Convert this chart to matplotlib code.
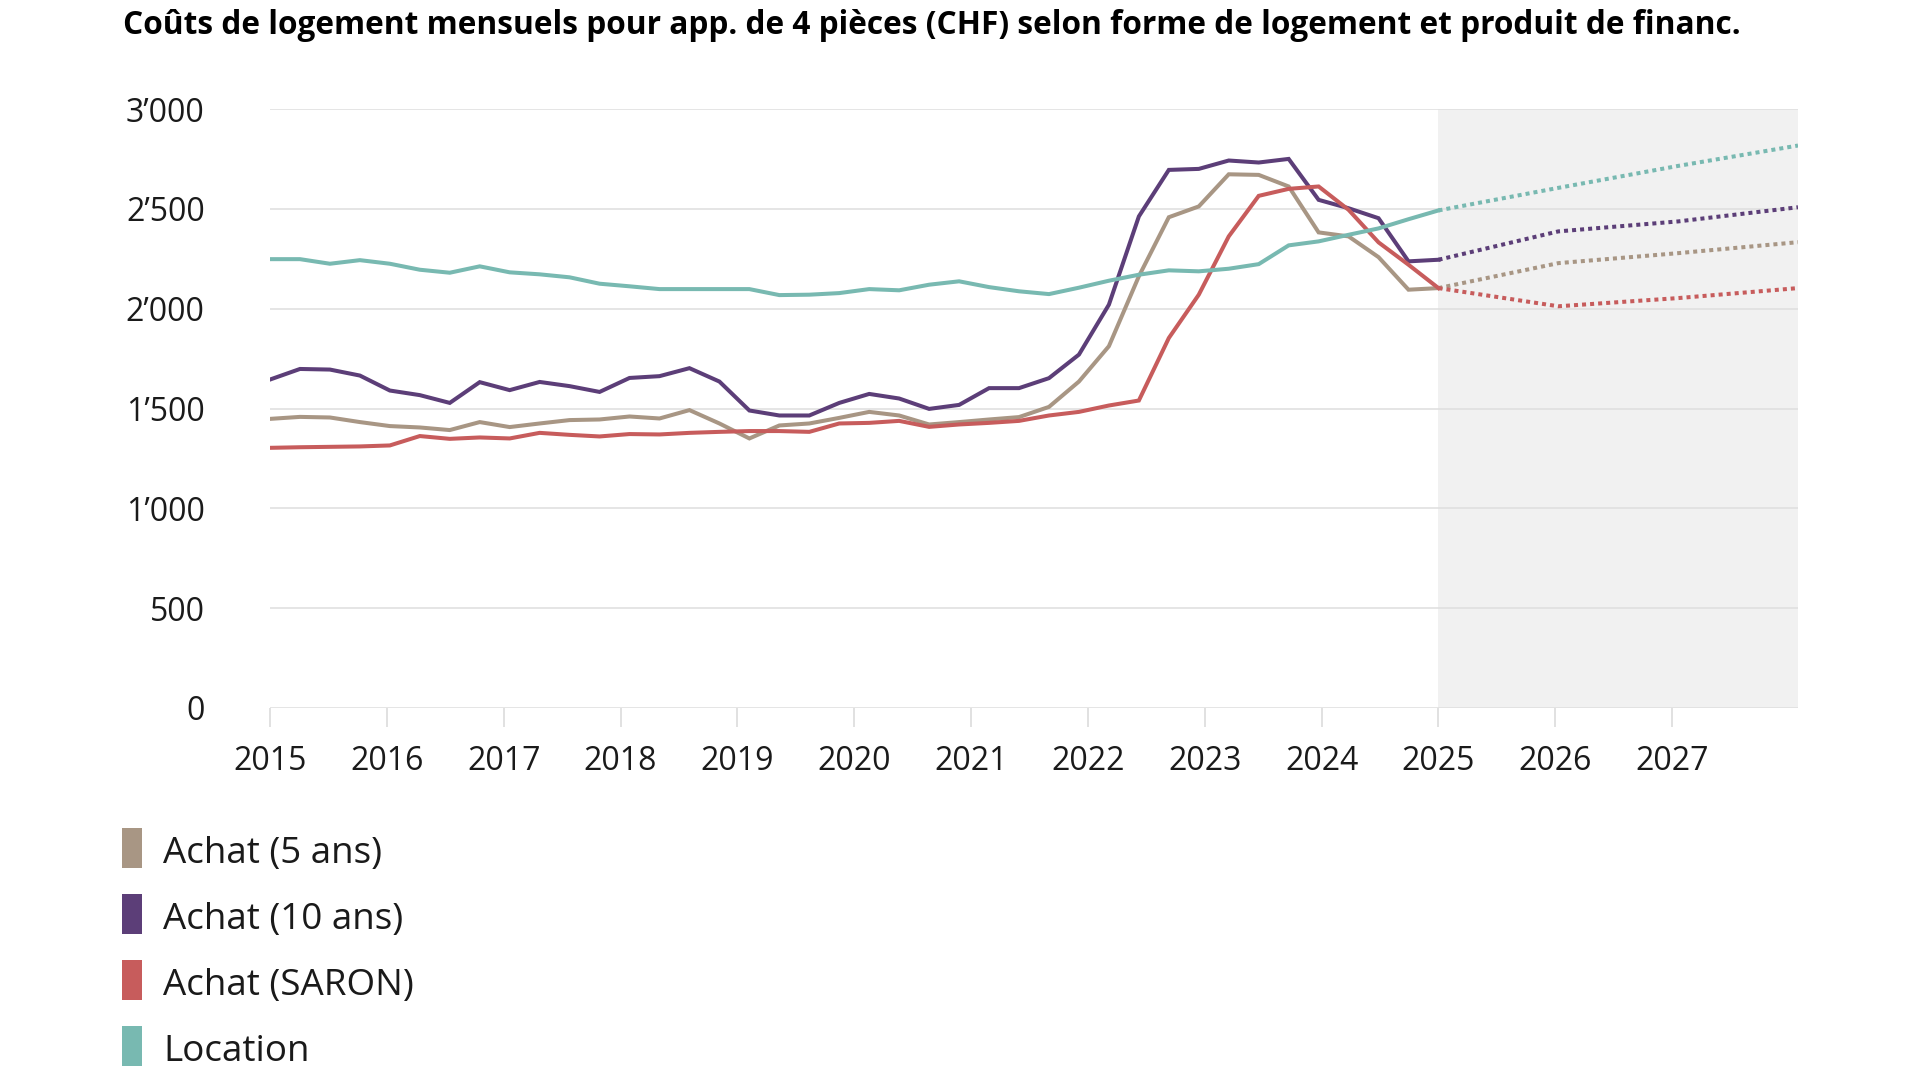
import numpy as np
import matplotlib
matplotlib.use("Agg")
import matplotlib.pyplot as plt
from matplotlib.patches import Rectangle
from matplotlib.ticker import FuncFormatter

plt.rcParams['font.family'] = ['Open Sans', 'DejaVu Sans']

title = "Coûts de logement mensuels pour app. de 4 pièces (CHF) selon forme de logement et produit de financ."

series_names = ["Achat (5 ans)", "Achat (10 ans)", "Achat (SARON)", "Location"]
colors = ["#a89684", "#5c3e78", "#c75c5c", "#78b9b1"]

# historical quarterly values (40 points, 2015 -> 2025)
achat_5 = [1448, 1458, 1455, 1432, 1412, 1405, 1392, 1432, 1407, 1425,
           1442, 1445, 1460, 1450, 1492, 1425, 1350, 1415, 1425, 1453,
           1483, 1465, 1420, 1432, 1445, 1457, 1508, 1635, 1812, 2162,
           2458, 2512, 2673, 2670, 2612, 2382, 2362, 2258, 2095, 2103]
achat_10 = [1645, 1698, 1695, 1665, 1590, 1567, 1528, 1632, 1592, 1633,
            1612, 1583, 1653, 1662, 1702, 1635, 1490, 1465, 1465, 1528,
            1573, 1550, 1498, 1518, 1602, 1602, 1652, 1770, 2020, 2462,
            2695, 2700, 2742, 2732, 2750, 2545, 2503, 2453, 2237, 2245]
achat_saron = [1303, 1306, 1308, 1310, 1315, 1362, 1348, 1355, 1350, 1378,
               1368, 1360, 1372, 1370, 1378, 1383, 1387, 1387, 1383, 1425,
               1428, 1438, 1408, 1420, 1428, 1438, 1465, 1483, 1515, 1540,
               1853, 2070, 2362, 2565, 2600, 2612, 2495, 2332, 2220, 2103]
location = [2248, 2248, 2225, 2243, 2225, 2195, 2180, 2212, 2182, 2172,
            2157, 2125, 2112, 2098, 2098, 2098, 2098, 2068, 2070, 2078,
            2098, 2092, 2120, 2137, 2108, 2087, 2073, 2105, 2140, 2170,
            2192, 2187, 2200, 2223, 2317, 2337, 2370, 2402, 2448, 2492]

# forecast values (points at start 2025, ~2026, ~2027, ~2028)
fc_achat_5 = [2103, 2228, 2278, 2333]
fc_achat_10 = [2245, 2387, 2437, 2508]
fc_achat_saron = [2103, 2012, 2053, 2103]
fc_location = [2492, 2605, 2715, 2817]

year_ticks = list(range(2015, 2028))
y_ticks = [0, 500, 1000, 1500, 2000, 2500, 3000]

hist = [achat_5, achat_10, achat_saron, location]
fcs = [fc_achat_5, fc_achat_10, fc_achat_saron, fc_location]

n_hist = len(achat_5)
step = 10 / (n_hist - 1)
pos_all = 2015 + np.arange(n_hist + 12) * step
x_hist = pos_all[:n_hist]
x_fc = pos_all[n_hist - 1::4]
x_end = pos_all[-1]

fig = plt.figure(figsize=(19.2, 10.74), dpi=100)
ax = fig.add_axes([270 / 1920, (1074 - 708) / 1074, (1798 - 270) / 1920, (708 - 109) / 1074])

ax.axvspan(2025, x_end, color="#f1f1f1", zorder=0.2, lw=0)

lw = 2.9
for h, f, c in zip(hist, fcs, colors):
    ax.plot(x_hist, h, color=c, lw=lw, solid_joinstyle='miter', zorder=3)
    ax.plot(x_fc, f, color=c, lw=lw, linestyle=(0, (1, 1)), dash_capstyle='butt', zorder=3)

ax.set_xlim(2015, x_end)
ax.set_ylim(0, 3000)
ax.set_yticks(y_ticks)
ax.set_xticks(year_ticks)
ax.yaxis.set_major_formatter(FuncFormatter(lambda v, p: f"{int(v):,}".replace(",", "\u2019")))
ax.grid(axis='y', color="#e0e0e0", lw=1.2)
ax.set_axisbelow(True)
for s in ax.spines.values():
    s.set_visible(False)
ax.tick_params(axis='y', length=0, pad=47, labelsize=23, labelcolor="#1a1a1a")
ax.tick_params(axis='x', length=14, width=1.2, color="#dcdcdc", pad=13, labelsize=23, labelcolor="#1a1a1a")

fig.text(123 / 1920, 1 - 34 / 1074, title, fontsize=22.8, fontweight='bold', color="#000000",
         ha='left', va='baseline')

for i, (name, c) in enumerate(zip(series_names, colors)):
    top = 828 + 66 * i
    fig.add_artist(Rectangle((122 / 1920, 1 - (top + 40) / 1074), 20 / 1920, 40 / 1074,
                             transform=fig.transFigure, color=c, lw=0))
    fig.text(163 / 1920, 1 - (top + 35) / 1074, name, fontsize=26.5, color="#1a1a1a",
             ha='left', va='baseline')

fig.savefig("out.png", dpi=100)
